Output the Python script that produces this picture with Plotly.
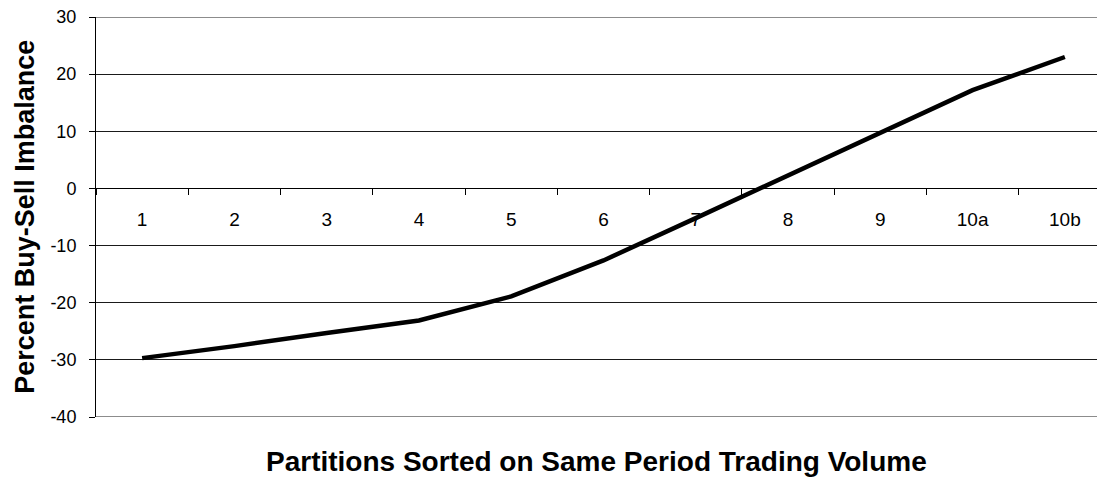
import plotly.graph_objects as go

# Data
categories = ["1", "2", "3", "4", "5", "6", "7", "8", "9", "10a", "10b"]
imbalance = [-29.7, -27.6, -25.3, -23.1, -18.9, -12.6, -5.2, 2.2, 9.7, 17.2, 23.0]
y_ticks = [30, 20, 10, 0, -10, -20, -30, -40]
y_range = [-40, 30]

x_title = "Partitions Sorted on Same Period Trading Volume"
y_title = "Percent Buy-Sell Imbalance"

FONT = "Arial, 'Liberation Sans', sans-serif"

# The page body has an 8px default margin, so the figure is sized to fill the rest
fig = go.Figure()
fig.add_trace(go.Scatter(
    x=categories, y=imbalance, mode="lines",
    line=dict(color="black", width=4.5),
    showlegend=False, hoverinfo="x+y",
))

fig.update_layout(
    width=1097, height=471, autosize=False,
    margin=dict(l=88, r=0, t=9, b=62, pad=0),
    paper_bgcolor="white", plot_bgcolor="white",
    font=dict(family=FONT, color="black"),
    xaxis=dict(
        type="category",
        range=[-0.5, len(categories) - 0.5 - 0.065],
        anchor="free",
        position=(0 - y_range[0]) / (y_range[1] - y_range[0]),
        showline=True, linecolor="black", linewidth=1,
        ticks="outside", ticklen=6, tickcolor="black", tickwidth=1,
        tickson="boundaries",
        showgrid=False, zeroline=False,
        tickfont=dict(size=19, family=FONT, color="black"),
        ticklabelstandoff=14,
        ticklabeloverflow="allow",
        fixedrange=True,
    ),
    yaxis=dict(
        range=y_range,
        tickvals=y_ticks,
        ticktext=[str(v) for v in y_ticks],
        showline=True, linecolor="black", linewidth=1,
        ticks="outside", ticklen=6, tickcolor="black", tickwidth=1,
        showgrid=True, gridcolor="#1a1a1a", gridwidth=1,
        zeroline=False,
        tickfont=dict(size=18, family=FONT, color="black"),
        ticklabelstandoff=9,
        ticklabeloverflow="allow",
        fixedrange=True,
    ),
    shapes=[
        dict(type="line", xref="paper", yref="y", x0=0, x1=1,
             y0=y_range[1], y1=y_range[1], line=dict(color="#8c8c8c", width=2), layer="above"),
        dict(type="line", xref="paper", yref="y", x0=0, x1=1,
             y0=y_range[0], y1=y_range[0], line=dict(color="#8c8c8c", width=2), layer="above"),
    ],
    annotations=[
        dict(text=f"<b>{x_title}</b>", xref="paper", yref="paper",
             x=0.4965, y=-0.11, xanchor="center", yanchor="middle", showarrow=False,
             font=dict(size=28, family=FONT, color="black")),
        dict(text=f"<b>{y_title}</b>", xref="paper", yref="paper",
             x=-0.0705, y=0.5, xanchor="center", yanchor="middle", showarrow=False,
             textangle=-90,
             font=dict(size=27, family=FONT, color="black")),
    ],
)

fig.write_html("out.html")
